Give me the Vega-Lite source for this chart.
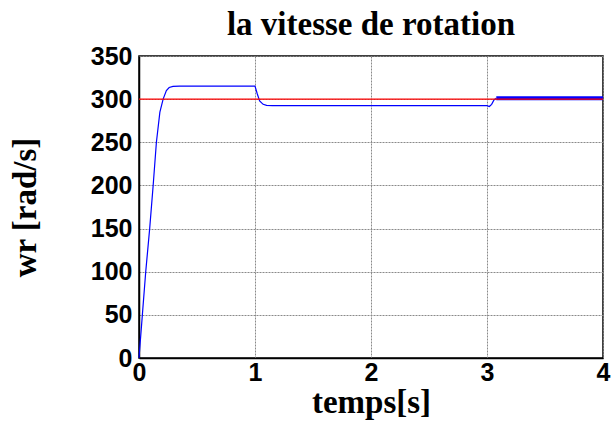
{
  "$schema": "https://vega.github.io/schema/vega-lite/v6.json",
  "width": 464,
  "height": 302,
  "autosize": {"type": "none"},
  "padding": {"left": 139, "top": 56, "right": 10, "bottom": 64},
  "background": "white",
  "title": {
    "text": "la vitesse de rotation",
    "font": "Liberation Serif",
    "fontSize": 33,
    "fontWeight": "bold",
    "color": "black",
    "offset": 2,
    "anchor": "middle"
  },
  "config": {
    "view": {"stroke": "black", "strokeWidth": 1.5},
    "axis": {
      "labelFont": "Liberation Sans",
      "labelFontWeight": "bold",
      "labelFontSize": 25,
      "labelColor": "black",
      "titleFont": "Liberation Serif",
      "titleFontWeight": "bold",
      "titleFontSize": 33,
      "titleColor": "black",
      "domainColor": "black",
      "domainWidth": 1.5,
      "ticks": false,
      "grid": true,
      "gridColor": "#8a8a8a",
      "gridWidth": 1,
      "gridDash": [2, 1],
      "gridOpacity": 1
    }
  },
  "data": {
    "values": [
      {"t": 0, "w": 0, "s": "wr"},
      {"t": 0.029, "w": 50, "s": "wr"},
      {"t": 0.058, "w": 100, "s": "wr"},
      {"t": 0.092, "w": 150, "s": "wr"},
      {"t": 0.122, "w": 200, "s": "wr"},
      {"t": 0.15, "w": 250, "s": "wr"},
      {"t": 0.18, "w": 285, "s": "wr"},
      {"t": 0.208, "w": 300, "s": "wr"},
      {"t": 0.236, "w": 310, "s": "wr"},
      {"t": 0.26, "w": 313.5, "s": "wr"},
      {"t": 0.293, "w": 314.8, "s": "wr"},
      {"t": 0.35, "w": 315, "s": "wr"},
      {"t": 1.0, "w": 315, "s": "wr"},
      {"t": 1.02, "w": 306, "s": "wr"},
      {"t": 1.04, "w": 298, "s": "wr"},
      {"t": 1.07, "w": 294, "s": "wr"},
      {"t": 1.1, "w": 292.8, "s": "wr"},
      {"t": 1.15, "w": 292.5, "s": "wr"},
      {"t": 3.0, "w": 292.5, "s": "wr"},
      {"t": 3.02, "w": 291.5, "s": "wr"},
      {"t": 3.04, "w": 294, "s": "wr"},
      {"t": 3.06, "w": 299, "s": "wr"},
      {"t": 3.08, "w": 301, "s": "wr"},
      {"t": 3.08, "w": 301, "s": "ripple"},
      {"t": 4.0, "w": 301, "s": "ripple"},
      {"t": 0, "w": 300, "s": "ref"},
      {"t": 4, "w": 300, "s": "ref"}
    ]
  },
  "encoding": {
    "x": {
      "field": "t",
      "type": "quantitative",
      "scale": {"domain": [0, 4], "nice": false},
      "axis": {"values": [0, 1, 2, 3, 4], "title": "temps[s]", "labelPadding": 2, "titlePadding": 1, "labelFlush": false}
    },
    "y": {
      "field": "w",
      "type": "quantitative",
      "scale": {"domain": [0, 350], "nice": false},
      "axis": {"values": [0, 50, 100, 150, 200, 250, 300, 350], "title": "wr [rad/s]", "labelPadding": 7, "titlePadding": 48, "labelFlush": false}
    }
  },
  "layer": [
    {
      "transform": [{"filter": "datum.s === 'wr'"}],
      "mark": {"type": "line", "color": "#0000ff", "strokeWidth": 1.2}
    },
    {
      "transform": [{"filter": "datum.s === 'ripple'"}],
      "mark": {"type": "line", "color": "#0000ff", "strokeWidth": 4}
    },
    {
      "transform": [{"filter": "datum.s === 'ref'"}],
      "mark": {"type": "line", "color": "#ff0000", "strokeWidth": 1.2}
    }
  ]
}
